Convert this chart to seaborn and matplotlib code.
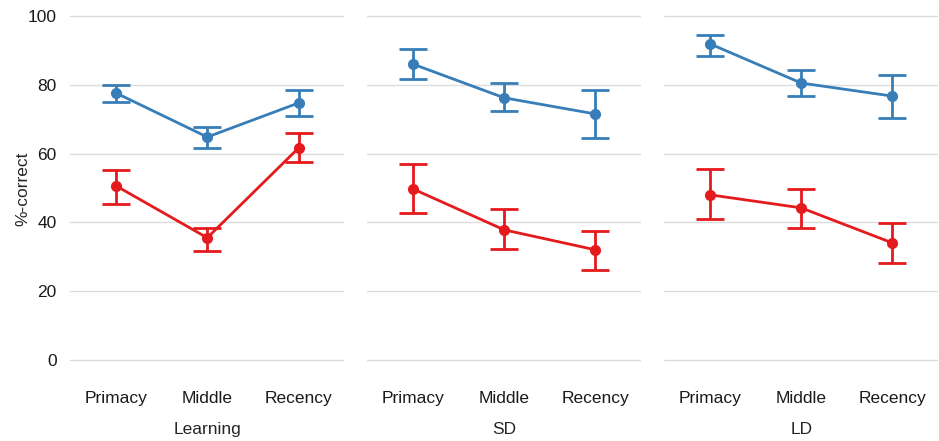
import matplotlib
matplotlib.use("Agg")
import matplotlib.pyplot as plt
import seaborn as sns
import pandas as pd

positions = ["Primacy", "Middle", "Recency"]
phases = ["Learning", "SD", "LD"]

# mean, lower and upper bound of the error bars, per phase (Primacy, Middle, Recency)
blue_mean = {"Learning": [77.6, 64.8, 74.7], "SD": [86.0, 76.2, 71.5], "LD": [91.9, 80.5, 76.7]}
blue_lo = {"Learning": [75.0, 61.6, 70.9], "SD": [81.7, 72.4, 64.5], "LD": [88.4, 76.7, 70.3]}
blue_hi = {"Learning": [79.9, 67.7, 78.5], "SD": [90.4, 80.5, 78.5], "LD": [94.5, 84.3, 82.8]}

red_mean = {"Learning": [50.6, 35.5, 61.6], "SD": [49.7, 37.8, 32.0], "LD": [48.0, 44.2, 34.0]}
red_lo = {"Learning": [45.3, 31.7, 57.6], "SD": [42.7, 32.3, 26.2], "LD": [41.0, 38.4, 28.2]}
red_hi = {"Learning": [55.2, 38.4, 66.0], "SD": [57.0, 43.9, 37.5], "LD": [55.5, 49.7, 39.8]}

colors = {"blue": "#377eb8", "red": "#e41a1c"}

sns.set_theme(style="white")
plt.rcParams["font.family"] = ["Liberation Sans", "DejaVu Sans"]

rows = []
for ph in phases:
    for name, m, lo, hi in [("blue", blue_mean, blue_lo, blue_hi), ("red", red_mean, red_lo, red_hi)]:
        for i, pos in enumerate(positions):
            rows.append({"phase": ph, "group": name, "position": pos,
                         "mean": m[ph][i], "lo": lo[ph][i], "hi": hi[ph][i]})
df = pd.DataFrame(rows)

fig, axes = plt.subplots(1, 3, figsize=(9.39, 4.41), dpi=100, sharey=True)
fig.subplots_adjust(left=0.075, right=0.999, bottom=0.145, top=1.0, wspace=0.085)

for ax, ph in zip(axes, phases):
    sub = df[df["phase"] == ph]
    ax.yaxis.grid(True, color="#dcdcdc", linewidth=1.0)
    ax.set_axisbelow(True)
    sns.pointplot(data=sub, x="position", y="mean", hue="group", order=positions,
                  hue_order=["blue", "red"], palette=colors, errorbar=None,
                  markersize=6.5, linewidth=2.0, ax=ax, legend=False)
    for g in ["blue", "red"]:
        s = sub[sub["group"] == g].set_index("position").loc[positions]
        x = range(len(positions))
        ax.errorbar(x, s["mean"], yerr=[s["mean"] - s["lo"], s["hi"] - s["mean"]],
                    fmt="none", ecolor=colors[g], elinewidth=2.0, capsize=10,
                    capthick=2.0, zorder=3)
    ax.set_xlim(-0.5, 2.5)
    ax.set_ylim(-5, 104.65)
    ax.set_yticks([0, 20, 40, 60, 80, 100])
    ax.set_xlabel(ph, fontsize=12.5, labelpad=11.5)
    ax.set_ylabel("")
    ax.tick_params(axis="both", length=0, labelsize=12.5, colors="#1a1a1a")
    ax.tick_params(axis="x", pad=10)
    ax.tick_params(axis="y", pad=10)
    for sp in ax.spines.values():
        sp.set_visible(False)

axes[0].set_ylabel("%-correct", fontsize=12.5, labelpad=-2)
for ax in axes[1:]:
    ax.tick_params(axis="y", labelleft=False)

fig.savefig("out.png", dpi=100)
